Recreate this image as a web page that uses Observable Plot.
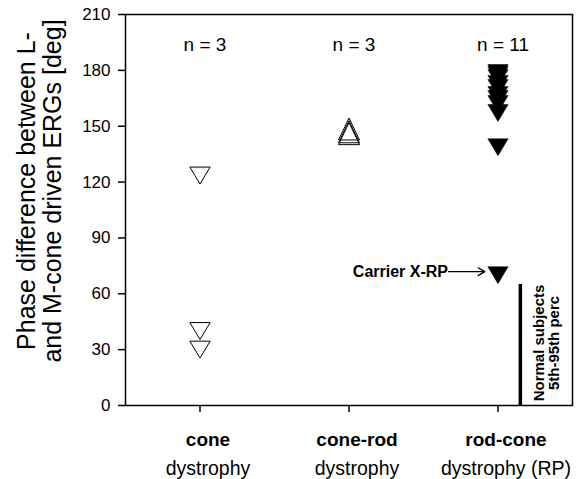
<!DOCTYPE html>
<html>
<head>
<meta charset="utf-8">
<script src="https://cdn.jsdelivr.net/npm/d3@7"></script>
<script src="https://cdn.jsdelivr.net/npm/@observablehq/plot@0.6"></script>
<style>
  html, body { margin: 0; padding: 0; background: #fff; }
</style>
</head>
<body>
<div id="chart"></div>
<script>
// ---- data ----
const categories = ["cone", "cone-rod", "rod-cone"];
const subtitles = ["dystrophy", "dystrophy", "dystrophy (RP)"];
const counts = [3, 3, 11];
const coneValues = [123.5, 40, 30];
const coneRodValues = [148.5, 147, 146];
const rodConeValues = [178.6, 177.5, 175.9, 172.7, 170.5, 166.8, 164.6, 161.9, 157.1, 138.7, 70];
const yTicks = [0, 30, 60, 90, 120, 150, 180, 210];
const normalRange = [0, 65];
const yLabel = "Phase difference between L-\nand M-cone driven ERGs [deg]";
const normalLabel = "Normal subjects\n5th-95th perc";
const carrierLabel = "Carrier X-RP";
const carrierValue = rodConeValues[rodConeValues.length - 1];

// ---- custom symbols ----
const triDown = {
  draw(ctx, size) {
    const r = Math.sqrt(size / Math.PI);
    const hw = r * 1.45, hh = r * 1.21;
    ctx.moveTo(-hw, -hh); ctx.lineTo(hw, -hh); ctx.lineTo(0, hh); ctx.closePath();
  }
};
const triUp = {
  draw(ctx, size) {
    const r = Math.sqrt(size / Math.PI);
    const hw = r * 1.5, hh = r * 1.57;
    ctx.moveTo(0, -hh); ctx.lineTo(hw, hh); ctx.lineTo(-hw, hh); ctx.closePath();
  }
};

const groupX = (i) => i + 1;
const normalX = 3.15;

const chart = Plot.plot({
  width: 583,
  height: 479,
  marginLeft: 125,
  marginRight: 11,
  marginTop: 14,
  marginBottom: 74,
  style: { fontFamily: "'Liberation Sans', Arial, sans-serif", color: "#000", background: "#fff", overflow: "visible" },
  x: { domain: [0.5, 3.5] },
  y: { domain: [0, 210] },
  marks: [
    Plot.frame({ stroke: "#000", strokeWidth: 1.5 }),
    Plot.axisY({ ticks: yTicks, tickSize: 7, tickPadding: 8, fontSize: 17, strokeWidth: 1.5, label: null }),
    Plot.axisX({ ticks: [1, 2, 3], tickSize: 7, tickFormat: () => "", strokeWidth: 1.5, label: null }),
    // y label
    Plot.text([yLabel], { frameAnchor: "left", textAnchor: "middle", lineAnchor: "middle", rotate: -90, dx: -86, dy: -19, fontSize: 25, lineHeight: 1.06, text: d => d, fill: "#000" }),
    // n labels
    Plot.text(categories, { x: (d, i) => groupX(i), frameAnchor: "top", lineAnchor: "middle", dx: 5, dy: 30, fontSize: 19, text: (d, i) => `n = ${counts[i]}`, fill: "#000" }),
    // category labels
    Plot.text(categories, { x: (d, i) => groupX(i), frameAnchor: "bottom", lineAnchor: "middle", dx: 8, dy: 34, fontSize: 19, fontWeight: "bold", text: d => d, fill: "#000" }),
    Plot.text(subtitles, { x: (d, i) => groupX(i), frameAnchor: "bottom", lineAnchor: "middle", dx: 8, dy: 63, fontSize: 19.5, text: d => d, fill: "#000" }),
    // data
    Plot.dot(coneValues, { x: 1, y: d => d, symbol: triDown, r: 7, fill: "none", stroke: "#000", strokeWidth: 1 }),
    Plot.dot(coneRodValues, { x: 2, y: d => d, symbol: triUp, r: 7, fill: "none", stroke: "#000", strokeWidth: 1 }),
    Plot.dot(rodConeValues, { x: 3, y: d => d, symbol: triDown, r: 7, fill: "#000", stroke: "#000", strokeWidth: 0.5 }),
    // normal range
    Plot.ruleX([normalRange], { x: normalX, y1: d => d[0], y2: d => d[1], stroke: "#000", strokeWidth: 3.5 }),
    Plot.text([normalLabel], { x: normalX, y: (normalRange[0] + normalRange[1]) / 2, textAnchor: "middle", lineAnchor: "middle", rotate: -90, dx: 26, dy: -2, fontSize: 15, fontWeight: "bold", lineHeight: 1, text: d => d, fill: "#000" }),
    // carrier annotation
    Plot.text([carrierValue], { x: 3, y: d => d, textAnchor: "end", lineAnchor: "middle", dx: -50, dy: -3.5, fontSize: 16, fontWeight: "bold", text: () => carrierLabel, fill: "#000" }),
    Plot.arrow([carrierValue], { x1: 3 - 0.332, x2: 3 - 0.088, y1: d => d, y2: d => d, dy: -3.5, stroke: "#000", strokeWidth: 1.3, headLength: 9 })
  ]
});

document.getElementById("chart").appendChild(chart);
</script>
</body>
</html>
